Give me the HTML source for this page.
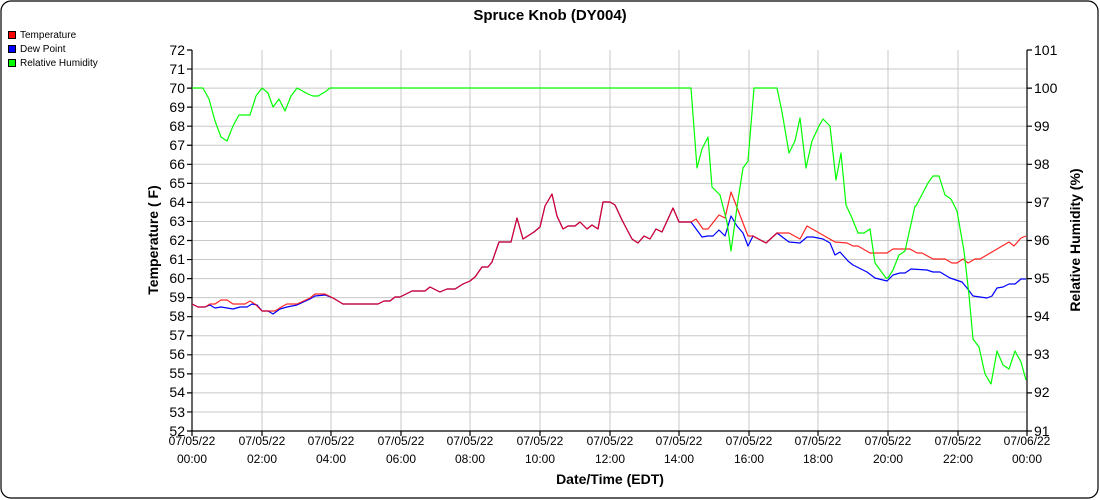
<!DOCTYPE html>
<html><head><meta charset="utf-8"><style>
body{margin:0;background:#fff}
svg{display:block;font-family:"Liberation Sans",Arial,sans-serif}
</style></head><body>
<svg width="1100" height="500" viewBox="0 0 1100 500">
<rect x="1" y="1" width="1097" height="497" rx="10" fill="#fff" stroke="#000" stroke-width="1.2"/>
<text x="550" y="20" font-size="15" font-weight="bold" text-anchor="middle">Spruce Knob (DY004)</text>
<g font-size="10">
<rect x="8.5" y="31.5" width="7" height="7" fill="#f00" stroke="#000"/><text x="20" y="38">Temperature</text>
<rect x="8.5" y="45.5" width="7" height="7" fill="#00f" stroke="#000"/><text x="20" y="52">Dew Point</text>
<rect x="8.5" y="59.5" width="7" height="7" fill="#0f0" stroke="#000"/><text x="20" y="66">Relative Humidity</text>
</g>
<g stroke="#c8c8c8" stroke-width="1">
<path d="M192 69.05H1027M192 88.1H1027M192 107.15H1027M192 126.2H1027M192 145.25H1027M192 164.3H1027M192 183.35H1027M192 202.4H1027M192 221.45H1027M192 240.5H1027M192 259.55H1027M192 278.6H1027M192 297.65H1027M192 316.7H1027M192 335.75H1027M192 354.8H1027M192 373.85H1027M192 392.9H1027M192 411.95H1027"/>
<path d="M262 50V431M331 50V431M401 50V431M470 50V431M540 50V431M610 50V431M679 50V431M749 50V431M818 50V431M888 50V431M958 50V431"/>
</g>
<g stroke="#000" stroke-width="1.2" fill="none">
<path d="M192 50V431H1027V50"/>
<path d="M187 50H192M187 69.05H192M187 88.1H192M187 107.15H192M187 126.2H192M187 145.25H192M187 164.3H192M187 183.35H192M187 202.4H192M187 221.45H192M187 240.5H192M187 259.55H192M187 278.6H192M187 297.65H192M187 316.7H192M187 335.75H192M187 354.8H192M187 373.85H192M187 392.9H192M187 411.95H192M187 431H192"/>
<path d="M1027 50H1032M1027 88.1H1032M1027 126.2H1032M1027 164.3H1032M1027 202.4H1032M1027 240.5H1032M1027 278.6H1032M1027 316.7H1032M1027 354.8H1032M1027 392.9H1032M1027 431H1032"/>
<path d="M192 431V436M262 431V436M331 431V436M401 431V436M470 431V436M540 431V436M610 431V436M679 431V436M749 431V436M818 431V436M888 431V436M958 431V436M1027 431V436"/>
</g>
<g font-size="14" text-anchor="end">
<text x="185" y="55">72</text><text x="185" y="74">71</text><text x="185" y="93">70</text><text x="185" y="112">69</text><text x="185" y="131">68</text><text x="185" y="150">67</text><text x="185" y="169">66</text><text x="185" y="188">65</text><text x="185" y="207">64</text><text x="185" y="226">63</text><text x="185" y="245">62</text><text x="185" y="264">61</text><text x="185" y="283">60</text><text x="185" y="302">59</text><text x="185" y="321">58</text><text x="185" y="340">57</text><text x="185" y="359">56</text><text x="185" y="378">55</text><text x="185" y="397">54</text><text x="185" y="417">53</text><text x="185" y="436">52</text>
</g>
<g font-size="14">
<text x="1034" y="55">101</text><text x="1034" y="93">100</text><text x="1034" y="131">99</text><text x="1034" y="169">98</text><text x="1034" y="207">97</text><text x="1034" y="245">96</text><text x="1034" y="283">95</text><text x="1034" y="321">94</text><text x="1034" y="359">93</text><text x="1034" y="397">92</text><text x="1034" y="436">91</text>
</g>
<g font-size="12" text-anchor="middle">
<text x="192" y="445">07/05/22</text><text x="192" y="463">00:00</text>
<text x="262" y="445">07/05/22</text><text x="262" y="463">02:00</text>
<text x="331" y="445">07/05/22</text><text x="331" y="463">04:00</text>
<text x="401" y="445">07/05/22</text><text x="401" y="463">06:00</text>
<text x="470" y="445">07/05/22</text><text x="470" y="463">08:00</text>
<text x="540" y="445">07/05/22</text><text x="540" y="463">10:00</text>
<text x="610" y="445">07/05/22</text><text x="610" y="463">12:00</text>
<text x="679" y="445">07/05/22</text><text x="679" y="463">14:00</text>
<text x="749" y="445">07/05/22</text><text x="749" y="463">16:00</text>
<text x="818" y="445">07/05/22</text><text x="818" y="463">18:00</text>
<text x="888" y="445">07/05/22</text><text x="888" y="463">20:00</text>
<text x="958" y="445">07/05/22</text><text x="958" y="463">22:00</text>
<text x="1027" y="445">07/06/22</text><text x="1027" y="463">00:00</text>
</g>
<text x="610" y="484" font-size="14" font-weight="bold" text-anchor="middle">Date/Time (EDT)</text>
<text transform="translate(158,240) rotate(-90)" font-size="14" font-weight="bold" text-anchor="middle">Temperature ( F)</text>
<text transform="translate(1080,240) rotate(-90)" font-size="14" font-weight="bold" text-anchor="middle">Relative Humidity (%)</text>
<g fill="none" stroke-width="1.2" stroke-linejoin="round">
<polyline stroke="#00f" points="192,304 198,307 205,307 210,305 215,308 221,307 227,308 233,309 240,307 247,307 252,304 257,305 262,311 268,311 273,314 280,309 287,307 297,305 310,299 315,296 325,295 333,298 343,304 378,304 384,301 390,301 395,297 400,297 412,291 425,291 430,287 440,292 447,289 455,289 463,284 470,281 475,277 482,267 488,267 492,262 499,242 511,242 517,218 523,239 534,232 540,227 545,206 552,194 557,216 563,229 568,226 575,226 580,222 587,229 592,225 598,229 603,202 610,202 615,205 622,220 632,239 638,243 644,236 650,239 656,229 662,232 673,208 679,222 691,222 702,237 708,236 713,236 719,230 725,236 731,216 737,226 743,233 748,246 753,236 766,243 777,233 789,242 800,243 807,237 813,237 823,239 830,243 835,255 840,252 848,261 853,265 867,272 875,278 887,281 893,275 900,273 905,273 911,269 927,270 933,272 940,272 950,278 962,282 967,288 973,296 987,298 992,296 997,288 1003,287 1009,284 1015,284 1021,279 1026,279"/>
<polyline stroke="#f00" stroke-opacity="0.85" points="192,304 198,307 205,307 210,304 215,304 221,300 227,300 233,304 245,304 250,301 255,304 262,311 275,311 283,306 287,304 297,304 310,298 315,294 325,294 333,298 343,304 378,304 384,301 390,301 395,297 400,297 412,291 425,291 430,287 440,292 447,289 455,289 463,284 470,281 475,277 482,267 488,267 492,262 499,242 511,242 517,218 523,239 534,232 540,227 545,206 552,194 557,216 563,229 568,226 575,226 580,222 587,229 592,225 598,229 603,202 610,202 615,205 622,220 632,239 638,243 644,236 650,239 656,229 662,232 673,208 679,222 691,222 696,219 703,229 708,229 719,215 725,218 731,192 748,236 753,236 766,243 777,233 789,233 800,239 807,226 835,242 847,243 853,246 858,246 870,253 887,253 893,249 910,249 917,253 922,253 933,259 945,259 952,263 957,263 963,259 968,263 975,259 980,259 1009,242 1014,246 1021,238 1026,236"/>
<polyline stroke="#0f0" points="192,88 203,88 209,99 215,121 221,137 227,141 233,126 239,115 250,115 256,96 262,88 268,93 273,107 279,99 285,111 291,96 297,88 308,94 313,96 318,96 325,92 330,88 691,88 697,168 702,149 708,137 712,187 720,195 727,222 731,251 738,200 743,168 748,161 754,88 777,88 782,112 789,153 795,141 800,118 806,168 812,141 819,126 823,119 830,126 836,180 841,153 846,205 852,218 858,233 864,233 870,229 875,263 886,278 888,278 893,270 899,255 905,251 915,206 916,206 928,183 933,176 939,176 945,195 951,199 957,211 964,251 969,295 973,339 979,347 985,374 991,384 997,351 1003,365 1009,369 1015,351 1021,362 1026,380"/>
</g>
</svg>
</body></html>
